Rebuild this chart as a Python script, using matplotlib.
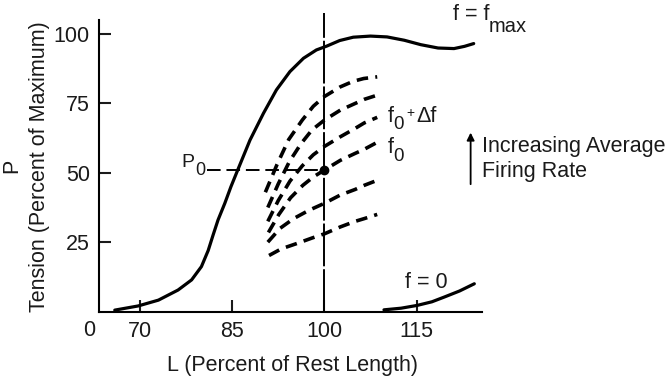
import numpy as np
import matplotlib
matplotlib.use("Agg")
import matplotlib.pyplot as plt

plt.rcParams['font.family'] = ['Liberation Sans', 'DejaVu Sans']

# f = fmax curve
fmax_L = [65.9, 69.7, 73.0, 76.2, 78.4, 80.0, 81.1, 81.9, 82.7, 83.8, 84.8, 85.9,
          87.9, 90.1, 92.2, 94.4, 96.6, 98.7, 100.4, 102.5, 104.7, 107.5, 110.2,
          113.0, 115.7, 118.5, 121.1, 122.8, 124.3]
fmax_P = [0.5, 2.0, 4.1, 7.75, 11.4, 16.2, 22.0, 27.6, 33.0, 39.0, 45.0, 51.0,
          61.8, 71.5, 79.9, 86.5, 91.3, 94.3, 95.7, 97.7, 98.9, 99.3, 99.0,
          97.8, 96.2, 95.0, 94.8, 95.6, 96.6]

# f = 0 curve
f0curve_L = [109.7, 112.5, 115.1, 117.5, 119.5, 122.0, 124.4]
f0curve_P = [0.6, 1.2, 2.2, 3.5, 5.2, 7.4, 10.0]

# intermediate firing rates (dashed)
mid_L = [
    [90.4, 92.3, 94.2, 96.4, 98.2, 100.0, 102.6, 104.7, 106.4, 108.6],
    [90.8, 92.5, 94.3, 96.2, 98.0, 100.0, 102.6, 105.0, 106.5, 108.6],
    [90.8, 92.5, 94.4, 96.4, 98.2, 100.0, 102.6, 105.0, 106.5, 108.6],
    [90.9, 92.6, 94.5, 96.5, 98.2, 100.0, 102.6, 105.0, 106.5, 108.6],
    [90.8, 92.8, 95.0, 97.5, 100.0, 102.6, 105.0, 106.5, 108.6],
    [91.0, 93.0, 95.5, 98.0, 100.0, 102.6, 105.0, 106.5, 108.6],
]
mid_P = [
    [43.0, 53.0, 62.0, 69.0, 74.0, 77.5, 81.0, 83.0, 84.0, 84.6],
    [37.5, 46.0, 54.0, 60.5, 65.5, 69.0, 72.6, 75.0, 76.5, 78.0],
    [32.5, 40.0, 47.0, 52.5, 56.5, 59.5, 63.0, 66.0, 68.0, 70.0],
    [28.5, 35.0, 41.0, 45.5, 48.5, 51.0, 54.5, 57.0, 58.5, 61.0],
    [25.0, 30.0, 33.5, 36.5, 39.0, 42.0, 44.0, 45.5, 47.3],
    [20.2, 22.6, 24.5, 26.5, 28.0, 30.5, 32.5, 33.5, 35.0],
]

L0, P0 = 100.0, 51.0
xticks = [70, 85, 100, 115]
yticks = [25, 50, 75, 100]

fig = plt.figure(figsize=(6.72, 3.81), dpi=100)
ax = fig.add_axes([0.1473, 0.1824, 0.5695, 0.7651])
ax.set_xlim(63.33, 125.6)
ax.set_ylim(0, 105.1)

for s in ['top', 'right']:
    ax.spines[s].set_visible(False)
for s in ['left', 'bottom']:
    ax.spines[s].set_linewidth(1.5)

ax.set_xticks(xticks)
ax.set_yticks(yticks)
ax.tick_params(direction='in', length=8.6, width=1.5, labelsize=15.5, colors='#1a1a1a')
ax.tick_params(axis='x', pad=7)
ax.tick_params(axis='y', pad=6.5)

# curves
ax.plot(fmax_L, fmax_P, color='k', lw=2.3, solid_capstyle='round', solid_joinstyle='round')
ax.plot(f0curve_L, f0curve_P, color='k', lw=2.3, solid_capstyle='round')
for xs, ys in zip(mid_L, mid_P):
    ax.plot(xs, ys, color='k', lw=2.6, linestyle=(0, (3.2, 2.0)))

# reference lines
ax.plot([L0, L0], [0, 107.6], color='k', lw=1.4, linestyle=(0, (22, 1.5)), clip_on=False)
ax.plot([80.9, L0], [P0, P0], color='k', lw=1.4, linestyle=(0, (7, 3)))
ax.plot([L0], [P0], 'o', color='k', ms=6)

# labels
tc = '#1a1a1a'
fs = 15.5


def sub(parent, s, dy, size, dx=-0.5):
    # subscript placed just after the parent text
    ax.annotate(s, xy=(1, 0), xycoords=parent, xytext=(dx, dy),
                textcoords='offset points', fontsize=size, color=tc,
                va='bottom', ha='left', annotation_clip=False)


t = ax.text(120.9, 105.1, 'f = f', fontsize=fs, color=tc, va='baseline', clip_on=False)
sub(t, 'max', -7.8, 14.5)

t = ax.text(110.3, 68.4, 'f', fontsize=fs, color=tc, va='baseline')
sub(t, '0', -4.5, 13.5)
ax.text(113.3, 71.6, '+', fontsize=10, color=tc, va='center')
ax.text(115.0, 68.4, '\u0394f', fontsize=fs, color=tc, va='baseline')

t = ax.text(110.3, 57.1, 'f', fontsize=fs, color=tc, va='baseline')
sub(t, '0', -5.0, 13.5)

ax.text(113.1, 8.5, 'f = 0', fontsize=fs, color=tc, va='baseline')

t = ax.text(76.8, 52.1, 'P', fontsize=14, color=tc, va='baseline')
sub(t, '0', -5.8, 13, dx=0.3)

ax.text(61.7, -6.7, '0', fontsize=fs, color=tc, ha='center', va='center', clip_on=False)

ax.annotate('', xy=(123.8, 65.5), xytext=(123.8, 44.9),
            arrowprops=dict(arrowstyle='-|>', lw=1.3, color='k', mutation_scale=11),
            annotation_clip=False)
ax.text(125.6, 59.4, 'Increasing Average', fontsize=fs, color=tc, va='center', clip_on=False)
ax.text(125.6, 50.4, 'Firing Rate', fontsize=fs, color=tc, va='center', clip_on=False)

fig.text(292.5 / 672, 1 - 366 / 381, 'L (Percent of Rest Length)', fontsize=fs, color=tc,
         ha='center', va='center')
fig.text(12 / 672, 1 - 166 / 381, 'P', fontsize=fs, color=tc, rotation=90,
         ha='center', va='center')
fig.text(40 / 672, 1 - 166.5 / 381, 'Tension (Percent of Maximum)', fontsize=fs, color=tc,
         rotation=90, ha='center', va='center')

fig.savefig('out.png', dpi=100)
